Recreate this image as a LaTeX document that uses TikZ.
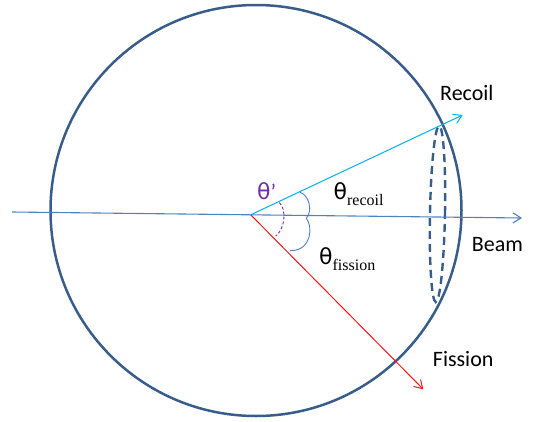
\documentclass[tikz,border=0pt]{standalone}
\usepackage{fontspec}
\setmainfont{Carlito}
\newfontfamily\subfont{Liberation Serif}
\newfontfamily\thfont{DejaVu Sans}
\usetikzlibrary{arrows.meta}
\definecolor{ringblue}{RGB}{56,93,138}
\definecolor{beamblue}{RGB}{79,129,189}
\definecolor{recoilcyan}{RGB}{0,176,240}
\definecolor{fissred}{RGB}{255,20,20}
\definecolor{primepurple}{RGB}{112,48,160}
\tikzset{
  ring/.style={draw=ringblue, line width=2.5pt},
  cone/.style={draw=ringblue, line width=2.4pt, dash pattern=on 8pt off 5pt},
  vec/.style={-{Straight Barb[length=8pt,width=10pt]}},
  beamline/.style={vec, draw=beamblue, line width=1.1pt},
  recoilline/.style={vec, draw=recoilcyan, line width=1pt},
  fissline/.style={vec, draw=fissred, line width=1pt},
  anglearc/.style={draw=beamblue, line width=0.9pt},
  primearc/.style={draw=primepurple, line width=0.9pt, dash pattern=on 3pt off 2pt},
  lbl/.style={font=\fontsize{22}{24}\selectfont, inner sep=0pt, anchor=base west},
  thlbl/.style={font=\fontsize{22}{24}\selectfont, inner sep=0pt, anchor=base west}
}
\newcommand{\thsub}[1]{{\thfont θ}\raisebox{-6pt}{\fontsize{16}{18}\selectfont\subfont #1}}
\begin{document}
\begin{tikzpicture}[x=1pt,y=-1pt]
\useasboundingbox (0,0) rectangle (533,421);
% geometry
\coordinate (C) at (256,210.5);
\coordinate (O) at (250.7,214.8);
\coordinate (beamstart) at (12,212);
\coordinate (beamtip) at (522,218);
\coordinate (recoiltip) at (462.7,115);
\coordinate (fisstip) at (423.3,389.3);
\coordinate (E) at (437.5,214);
% detector sphere
\draw[ring] (C) circle[radius=205.5pt];
% dashed cone ring
\draw[cone, rotate around={-1.1:(E)}] (E) ellipse[x radius=7.5pt, y radius=88pt];
% vectors
\draw[beamline] (beamstart) -- (beamtip);
\draw[recoilline] (O) -- (recoiltip);
\draw[fissline] (O) -- (fisstip);
% angle arcs
\coordinate (ra) at (300,192.3);
\coordinate (rb) at (306.3,218.3);
\coordinate (fb) at (290,250.7);
\draw[anglearc] (ra) .. controls (309,195) and (313,211) .. (rb);
\draw[anglearc] (rb) .. controls (313,226) and (312,251) .. (fb);
\coordinate (pa) at (279.3,202.7);
\coordinate (pb) at (275.7,236);
\draw[primearc] (pa) .. controls (286,208) and (286,228) .. (pb);
% labels
\node[thlbl, text=primepurple] (thp) at (257,199.5) {{\thfont θ}’};
\node[thlbl] (threc) at (333.5,199.5) {\thsub{recoil}};
\node[thlbl] (thfis) at (319,264.5) {\thsub{fission}};
\node[lbl] (recoil) at (440,100) {Recoil};
\node[lbl] (beam) at (471.7,251.7) {Beam};
\node[lbl] (fission) at (432.7,366.7) {Fission};
\end{tikzpicture}
\end{document}
